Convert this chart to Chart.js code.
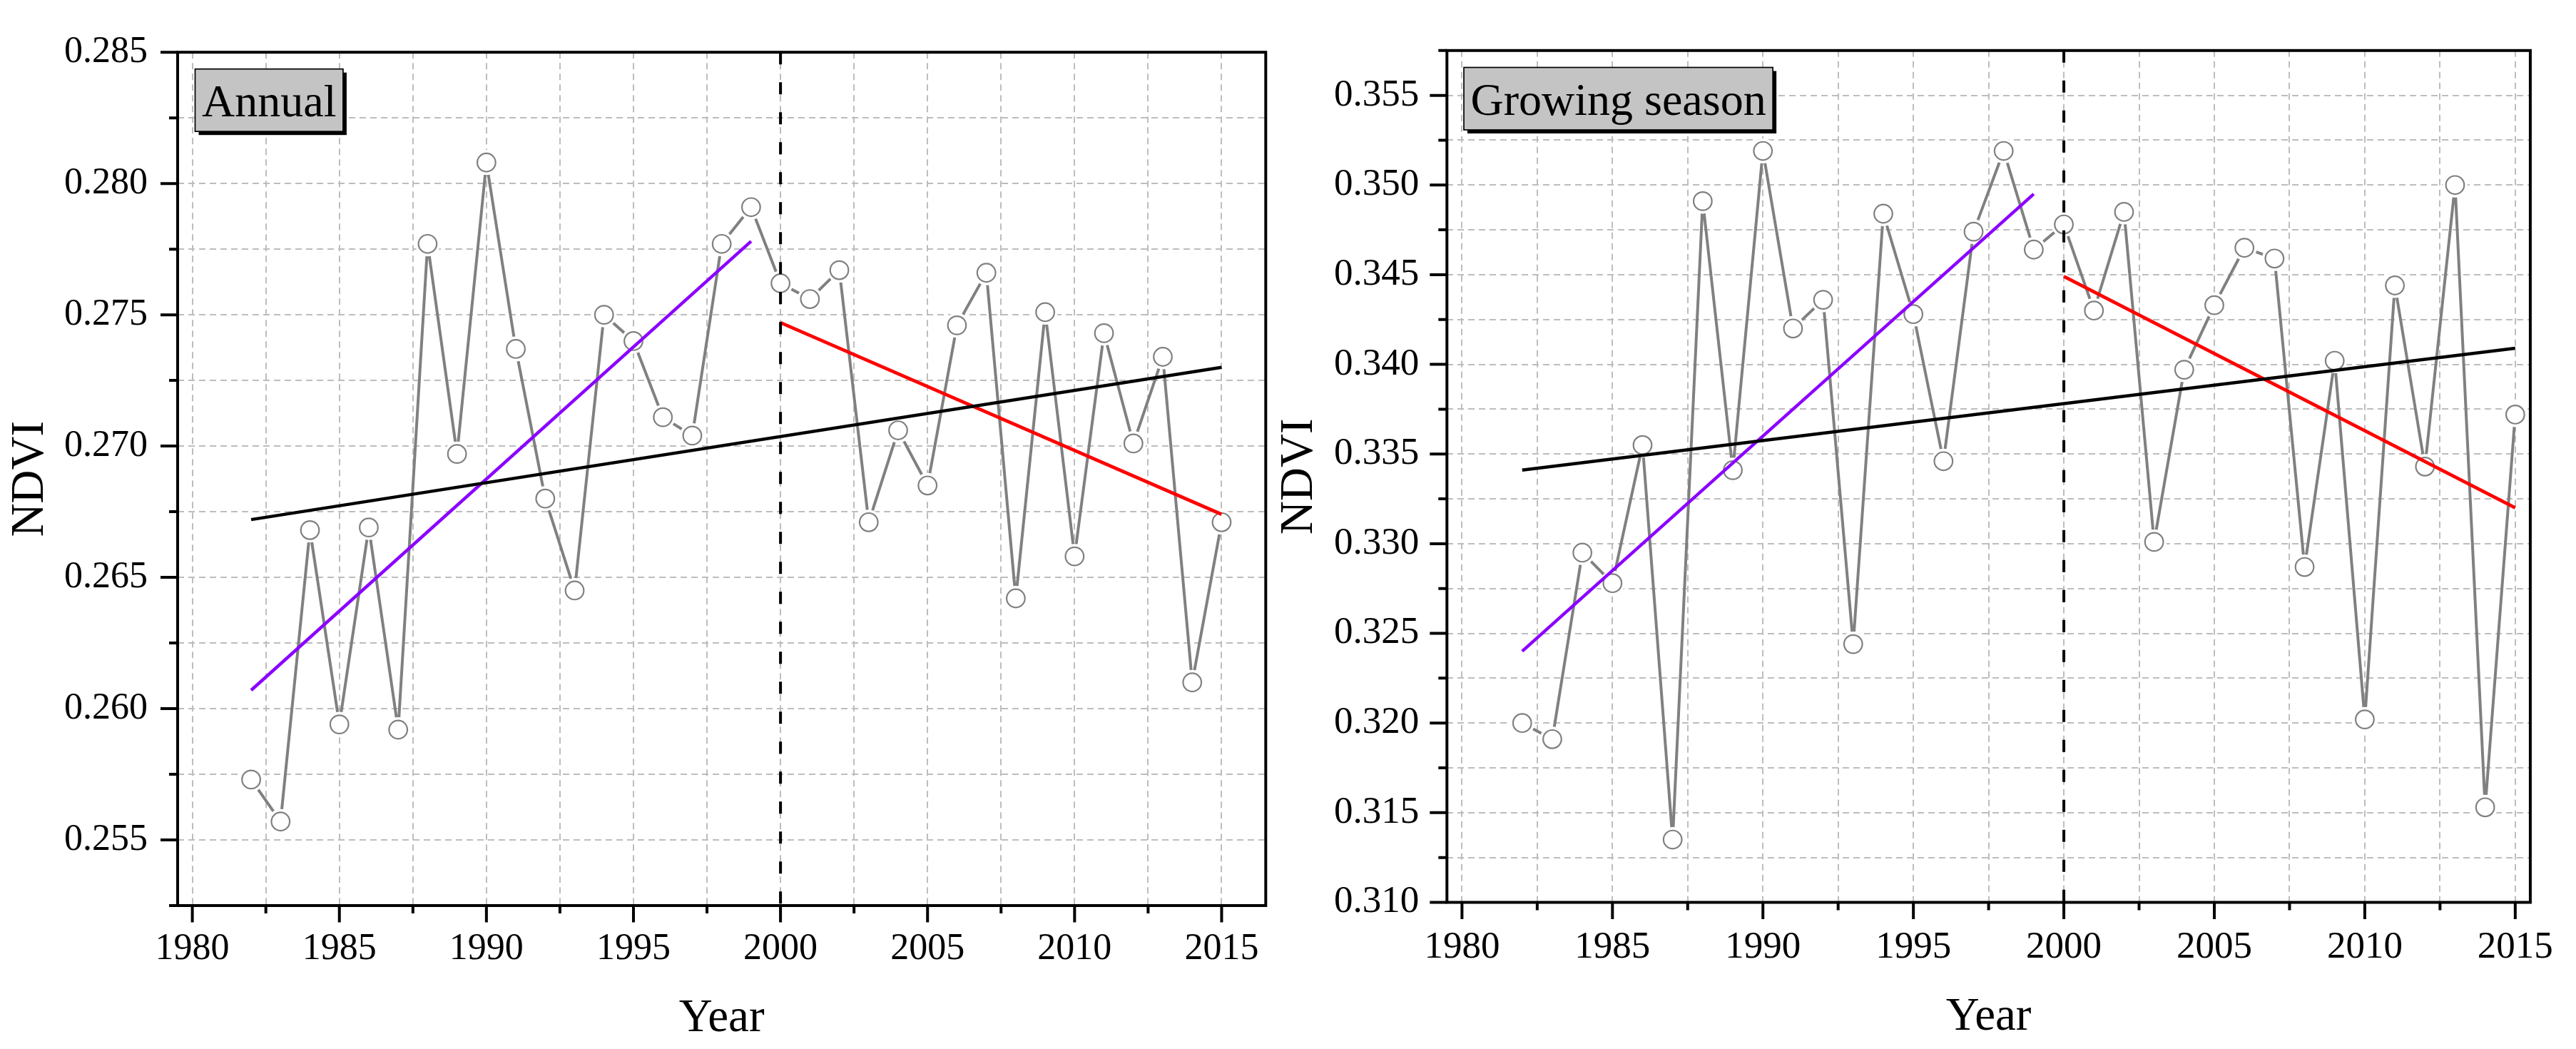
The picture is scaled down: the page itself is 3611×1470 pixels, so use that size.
<!DOCTYPE html>
<html>
<head>
<meta charset="utf-8">
<script src="https://cdn.jsdelivr.net/npm/chart.js@4.4.1/dist/chart.umd.min.js"></script>
<style>
  html, body { margin: 0; padding: 0; background: #ffffff; }
  body { width: 3611px; height: 1470px; position: relative; overflow: hidden; }
  canvas { position: absolute; top: 0; }
  #annual { left: 0px; }
  #growing { left: 1770px; }
</style>
</head>
<body>
<canvas id="annual" width="1800" height="1470"></canvas>
<canvas id="growing" width="1841" height="1470"></canvas>
<script>
// ---------------- data ----------------
const years = [1982, 1983, 1984, 1985, 1986, 1987, 1988, 1989, 1990, 1991, 1992, 1993,
               1994, 1995, 1996, 1997, 1998, 1999, 2000, 2001, 2002, 2003, 2004, 2005,
               2006, 2007, 2008, 2009, 2010, 2011, 2012, 2013, 2014, 2015];

const annualNDVI = [0.2573, 0.2557, 0.2668, 0.2594, 0.2669, 0.2592, 0.2777, 0.2697, 0.2808, 0.2737, 0.2680, 0.2645,
                    0.2750, 0.2740, 0.2711, 0.2704, 0.2777, 0.2791, 0.2762, 0.2756, 0.2767, 0.2671, 0.2706, 0.2685,
                    0.2746, 0.2766, 0.2642, 0.2751, 0.2658, 0.2743, 0.2701, 0.2734, 0.2610, 0.2671];

const growingNDVI = [0.3200, 0.3191, 0.3295, 0.3278, 0.3355, 0.3135, 0.3491, 0.3341, 0.3519, 0.3420, 0.3436, 0.3244,
                     0.3484, 0.3428, 0.3346, 0.3474, 0.3519, 0.3464, 0.3478, 0.3430, 0.3485, 0.3301, 0.3397, 0.3433,
                     0.3465, 0.3459, 0.3287, 0.3402, 0.3202, 0.3444, 0.3343, 0.3500, 0.3153, 0.3372];

// trend lines (end points)
const trendAllYears  = [1982, 2015];
const trendPreYears  = [1982, 1999];
const trendPostYears = [2000, 2015];
const annualTrendAll  = [0.2672, 0.2730];
const annualTrendPre  = [0.2607, 0.2778];
const annualTrendPost = [0.2747, 0.2674];
const growingTrendAll  = [0.3341, 0.3409];
const growingTrendPre  = [0.3240, 0.3495];
const growingTrendPost = [0.3449, 0.3320];
const breakYear = 2000;

// axes
const xTickValues = [1980, 1982.5, 1985, 1987.5, 1990, 1992.5, 1995, 1997.5, 2000, 2002.5, 2005, 2007.5, 2010, 2012.5, 2015];
const xTickLabels = [1980, 1985, 1990, 1995, 2000, 2005, 2010, 2015];
const annualXRange  = [1979.5, 2016.5];
const growingXRange = [1979.5, 2015.5];

const annualYTicks  = [0.2525, 0.255, 0.2575, 0.260, 0.2625, 0.265, 0.2675, 0.270, 0.2725, 0.275, 0.2775, 0.280, 0.2825, 0.285];
const annualYLabels = [0.255, 0.260, 0.265, 0.270, 0.275, 0.280, 0.285];
const annualYRange  = [0.2525, 0.285];

const growingYTicks  = [0.310, 0.3125, 0.315, 0.3175, 0.320, 0.3225, 0.325, 0.3275, 0.330, 0.3325, 0.335, 0.3375,
                        0.340, 0.3425, 0.345, 0.3475, 0.350, 0.3525, 0.355, 0.3575];
const growingYLabels = [0.310, 0.315, 0.320, 0.325, 0.330, 0.335, 0.340, 0.345, 0.350, 0.355];
const growingYRange  = [0.310, 0.3575];

// ---------------- drawing ----------------
const FONT = "'Liberation Serif', 'Times New Roman', serif";
const isIn = (v, arr) => arr.some(a => Math.abs(a - v) < 1e-7);

const frameTicks = {
  id: 'frameTicks',
  afterDraw(chart, args, opts) {
    const {ctx, chartArea: a} = chart;
    const xs = chart.scales.x, ys = chart.scales.y;
    ctx.save();
    ctx.strokeStyle = '#000';
    ctx.lineWidth = 4;
    ctx.lineCap = 'butt';
    ctx.beginPath();
    xs.ticks.forEach(t => {
      const px = xs.getPixelForValue(t.value);
      const len = isIn(t.value, opts.xMajor) ? 23.5 : 11;
      ctx.moveTo(px, a.bottom); ctx.lineTo(px, a.bottom + len);
    });
    ys.ticks.forEach(t => {
      const py = ys.getPixelForValue(t.value);
      const len = isIn(t.value, opts.yMajor) ? 24 : 12;
      ctx.moveTo(a.left, py); ctx.lineTo(a.left - len, py);
    });
    ctx.stroke();
    ctx.lineJoin = 'miter';
    ctx.strokeRect(a.left, a.top, a.right - a.left, a.bottom - a.top);

    // panel label box
    ctx.font = opts.labelSize + 'px ' + FONT;
    const tw = ctx.measureText(opts.label).width;
    const bx = a.left + opts.boxDx, by = a.top + opts.boxDy;
    const bw = tw + 19, bh = 87.5;
    ctx.fillStyle = '#000';
    ctx.fillRect(bx + 5, by + 5, bw, bh);
    ctx.fillStyle = '#c4c4c4';
    ctx.fillRect(bx, by, bw, bh);
    ctx.lineWidth = 1.7;
    ctx.strokeRect(bx, by, bw, bh);
    ctx.fillStyle = '#000';
    ctx.textAlign = 'center';
    ctx.textBaseline = 'alphabetic';
    ctx.fillText(opts.label, bx + bw / 2, by + opts.textDy);
    ctx.restore();
  }
};

function makePanel(canvasId, cfg) {
  const el = document.getElementById(canvasId);
  const W = el.width, H = el.height;
  const g = cfg.geom;
  const pts = (xs, vals) => xs.map((x, i) => ({x: x, y: vals[i]}));
  const series = pts(years, cfg.values);
  return new Chart(el, {
    type: 'line',
    data: {
      datasets: [
        {data: series, borderColor: '#808080', borderWidth: 4, pointRadius: 0, tension: 0, fill: false, order: 5},
        {data: series, showLine: false, pointRadius: 17.5, pointBackgroundColor: '#ffffff', pointBorderColor: '#ffffff', pointBorderWidth: 0, order: 4},
        {data: series, showLine: false, pointRadius: 12.8, pointBackgroundColor: '#ffffff', pointBorderColor: '#808080', pointBorderWidth: 2.2, order: 3},
        {data: pts(trendAllYears, cfg.trendAll), borderColor: '#000000', borderWidth: 4.5, pointRadius: 0, order: 2},
        {data: pts(trendPreYears, cfg.trendPre), borderColor: '#8b00ff', borderWidth: 4.5, pointRadius: 0, order: 2},
        {data: pts(trendPostYears, cfg.trendPost), borderColor: '#ff0000', borderWidth: 4.7, pointRadius: 0, order: 2},
        {data: [{x: breakYear, y: cfg.yRange[1]}, {x: breakYear, y: cfg.yRange[0]}], borderColor: '#000000', borderWidth: 4, borderDash: [17, 25], pointRadius: 0, order: 1}
      ]
    },
    options: {
      responsive: false,
      animation: false,
      events: [],
      devicePixelRatio: 1,
      layout: {padding: {left: 0, top: g.top, right: W - g.right, bottom: 0}},
      plugins: {
        legend: {display: false},
        tooltip: {enabled: false},
        frameTicks: {xMajor: xTickLabels, yMajor: cfg.yLabels, label: cfg.label, labelSize: 64,
                     boxDx: cfg.boxDx, boxDy: cfg.boxDy, textDy: 66}
      },
      scales: {
        x: {
          type: 'linear', min: cfg.xRange[0], max: cfg.xRange[1], bounds: 'data', offset: false,
          afterBuildTicks: s => { s.ticks = xTickValues.map(v => ({value: v})); },
          afterFit: s => { s.height = H - g.bottom; },
          grid: {color: '#bdbdbd', lineWidth: 2, drawTicks: false, borderDash: [9, 6]},
          border: {display: false, dash: [9, 6]},
          ticks: {autoSkip: false, maxRotation: 0, minRotation: 0, padding: cfg.xTickPad, color: '#000',
                  font: {family: FONT, size: cfg.tickSize},
                  callback: v => isIn(v, xTickLabels) ? String(v) : ''},
          title: {display: true, text: 'Year', color: '#000', font: {family: FONT, size: cfg.titleSize},
                  padding: {top: 0, bottom: cfg.xTitlePad}}
        },
        y: {
          type: 'linear', min: cfg.yRange[0], max: cfg.yRange[1], bounds: 'data',
          afterBuildTicks: s => { s.ticks = cfg.yTicks.map(v => ({value: v})); },
          afterFit: s => { s.width = g.left; },
          grid: {color: '#bdbdbd', lineWidth: 2, drawTicks: false, borderDash: [9, 6]},
          border: {display: false, dash: [9, 6]},
          ticks: {autoSkip: false, padding: cfg.yTickPad, color: '#000',
                  font: {family: FONT, size: cfg.tickSize},
                  callback: v => isIn(v, cfg.yLabels) ? v.toFixed(3) : ''},
          title: {display: true, text: 'NDVI', color: '#000', font: {family: FONT, size: cfg.titleSize},
                  padding: {top: cfg.yTitlePad, bottom: 0}}
        }
      }
    },
    plugins: [frameTicks]
  });
}

makePanel('annual', {
  values: annualNDVI, trendAll: annualTrendAll, trendPre: annualTrendPre, trendPost: annualTrendPost,
  xRange: annualXRange, yRange: annualYRange, yTicks: annualYTicks, yLabels: annualYLabels,
  label: 'Annual',
  geom: {left: 249, top: 39.3, right: 1774.3, bottom: 1269},
  tickSize: 52, titleSize: 65, xTickPad: 30.5, yTickPad: 42, xTitlePad: 3, yTitlePad: 4,
  boxDx: 24.5, boxDy: 23.5
});

makePanel('growing', {
  values: growingNDVI, trendAll: growingTrendAll, trendPre: growingTrendPre, trendPost: growingTrendPost,
  xRange: growingXRange, yRange: growingYRange, yTicks: growingYTicks, yLabels: growingYLabels,
  label: 'Growing season',
  geom: {left: 258.3, top: 35.7, right: 1785.9, bottom: 1264.5},
  tickSize: 53, titleSize: 65, xTickPad: 31.4, yTickPad: 39, xTitlePad: 5, yTitlePad: 13,
  boxDx: 23.7, boxDy: 23.7
});
</script>
</body>
</html>
